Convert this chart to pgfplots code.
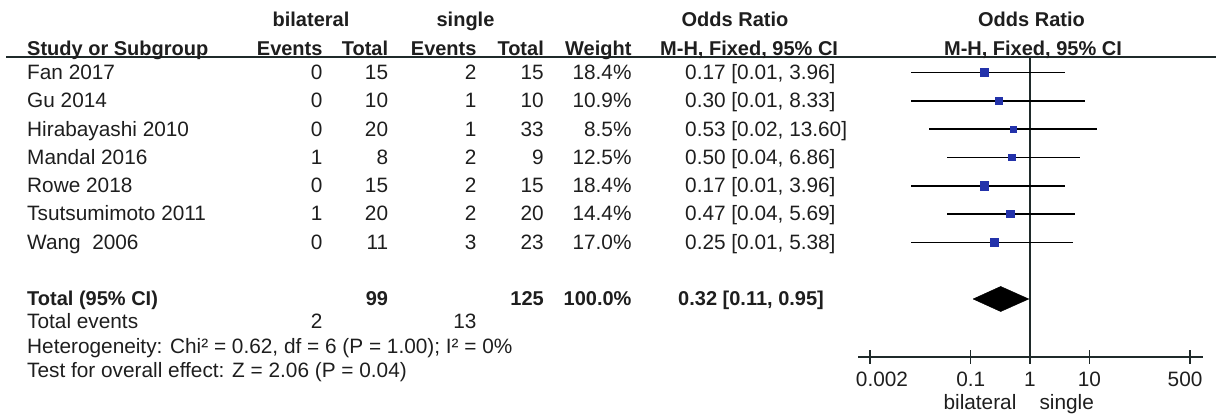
\documentclass[border=0pt]{standalone}
\usepackage{fontspec}
\setmainfont{Liberation Sans}
\usepackage{pgfplots}
\pgfplotsset{compat=1.18}
\definecolor{txt}{HTML}{1E1E1E}
\definecolor{sq}{HTML}{2332AA}
\definecolor{ln}{HTML}{1F2A2A}
\newcommand{\fs}{\fontsize{20.8pt}{24pt}\selectfont}
\newcommand{\fb}{\fontsize{20pt}{24pt}\selectfont\bfseries}
\newcommand{\frow}[9]{%
  \node[anchor=base west] at (27,#1) {#2};
  \node[anchor=base east] at (322.7,#1) {#3};
  \node[anchor=base east] at (388.3,#1) {#4};
  \node[anchor=base east] at (476.7,#1) {#5};
  \node[anchor=base east] at (544,#1) {#6};
  \node[anchor=base east] at (631.7,#1) {#7};
  \node[anchor=base west] at (#9,#1) {#8};
}
\begin{document}
\begin{tikzpicture}[x=1pt,y=1pt,every node/.style={inner sep=0pt,font=\fs,text=txt}]
\useasboundingbox (0,0) rectangle (1216,415);
\begin{axis}[at={(858pt,58pt)}, anchor=south west, scale only axis,
  width=345pt, height=300pt, xmode=log, xmin=0.001257, xmax=826,
  ymin=58, ymax=358, axis x line=bottom, axis y line=none,
  axis line style={-, line width=1.6pt, ln},
  xtick={0.002,0.1,1,10,500},
  xticklabels={\hspace*{24pt}0.002,0.1,1,10,500\hspace*{10pt}},
  xminorticks=false, major tick length=14pt, tick align=center,
  tick style={line width=1.4pt, ln},
  xticklabel style={font=\fs, text=txt, inner sep=0pt, anchor=base, yshift=-23pt},
  clip=false]
\addplot[ln, line width=1.6pt] coordinates {(1,58) (1,358)};
% confidence intervals
\addplot[black, line width=1.6pt] coordinates {(0.01,342.3) (3.96,342.3)};
\addplot[black, line width=1.6pt] coordinates {(0.01,314.0) (8.33,314.0)};
\addplot[black, line width=1.6pt] coordinates {(0.02,285.7) (13.60,285.7)};
\addplot[black, line width=1.6pt] coordinates {(0.04,257.4) (6.86,257.4)};
\addplot[black, line width=1.6pt] coordinates {(0.01,229.1) (3.96,229.1)};
\addplot[black, line width=1.6pt] coordinates {(0.04,200.8) (5.69,200.8)};
\addplot[black, line width=1.6pt] coordinates {(0.01,172.5) (5.38,172.5)};
% point estimates, size by weight
\addplot[only marks, mark=square*, mark size=4.15pt, sq, mark options={line width=0pt}] coordinates {(0.17,342.3)};
\addplot[only marks, mark=square*, mark size=3.2pt, sq, mark options={line width=0pt}] coordinates {(0.30,314.0)};
\addplot[only marks, mark=square*, mark size=2.8pt, sq, mark options={line width=0pt}] coordinates {(0.53,285.7)};
\addplot[only marks, mark=square*, mark size=3.4pt, sq, mark options={line width=0pt}] coordinates {(0.50,257.4)};
\addplot[only marks, mark=square*, mark size=4.15pt, sq, mark options={line width=0pt}] coordinates {(0.17,229.1)};
\addplot[only marks, mark=square*, mark size=3.65pt, sq, mark options={line width=0pt}] coordinates {(0.47,200.8)};
\addplot[only marks, mark=square*, mark size=4.0pt, sq, mark options={line width=0pt}] coordinates {(0.25,172.5)};
% pooled diamond
\addplot[fill=black, draw=black, line width=0.5pt] coordinates {(0.11,116) (0.32,128.5) (0.95,116) (0.32,103.5) (0.11,116)};
\end{axis}
% header line
\draw[ln, line width=2pt] (6,358) -- (1216,358);
% headers
\begin{scope}[every node/.append style={font=\fb}]
\node[anchor=base] at (311,388) {bilateral};
\node[anchor=base] at (465.5,388) {single};
\node[anchor=base] at (735,388) {Odds Ratio};
\node[anchor=base] at (1031.5,388) {Odds Ratio};
\node[anchor=base west] at (27,359.5) {Study or Subgroup};
\node[anchor=base east] at (322.7,359.5) {Events};
\node[anchor=base east] at (388.3,359.5) {Total};
\node[anchor=base east] at (476.7,359.5) {Events};
\node[anchor=base east] at (544,359.5) {Total};
\node[anchor=base east] at (631.7,359.5) {Weight};
\node[anchor=base west] at (660,359.5) {M-H, Fixed, 95\% CI};
\node[anchor=base] at (1033,359.5) {M-H, Fixed, 95\% CI};
\end{scope}
% rows
\frow{335.5}{Fan 2017}{0}{15}{2}{15}{18.4\%}{0.17 [0.01, 3.96]}{685}
\frow{307.2}{Gu 2014}{0}{10}{1}{10}{10.9\%}{0.30 [0.01, 8.33]}{685}
\frow{278.9}{Hirabayashi 2010}{0}{20}{1}{33}{8.5\%}{0.53 [0.02, 13.60]}{685}
\frow{250.6}{Mandal 2016}{1}{8}{2}{9}{12.5\%}{0.50 [0.04, 6.86]}{685}
\frow{222.3}{Rowe 2018}{0}{15}{2}{15}{18.4\%}{0.17 [0.01, 3.96]}{685}
\frow{194.0}{Tsutsumimoto 2011}{1}{20}{2}{20}{14.4\%}{0.47 [0.04, 5.69]}{685}
\frow{165.7}{Wang~~2006}{0}{11}{3}{23}{17.0\%}{0.25 [0.01, 5.38]}{685}
\begin{scope}[every node/.append style={font=\fb}]
\frow{109}{Total (95\% CI)}{}{99}{}{125}{100.0\%}{0.32 [0.11, 0.95]}{678}
\end{scope}
\frow{86}{Total events}{2}{}{13}{}{}{}{685}
\node[anchor=base west] at (27,61) {Heterogeneity: Chi² = 0.62, df = 6 (P = 1.00); I² = 0\%};
\node[anchor=base west] at (27,37) {Test for overall effect: Z = 2.06 (P = 0.04)};
\node[anchor=base] at (980,5) {bilateral};
\node[anchor=base] at (1066.7,5) {single};
\end{tikzpicture}
\end{document}
